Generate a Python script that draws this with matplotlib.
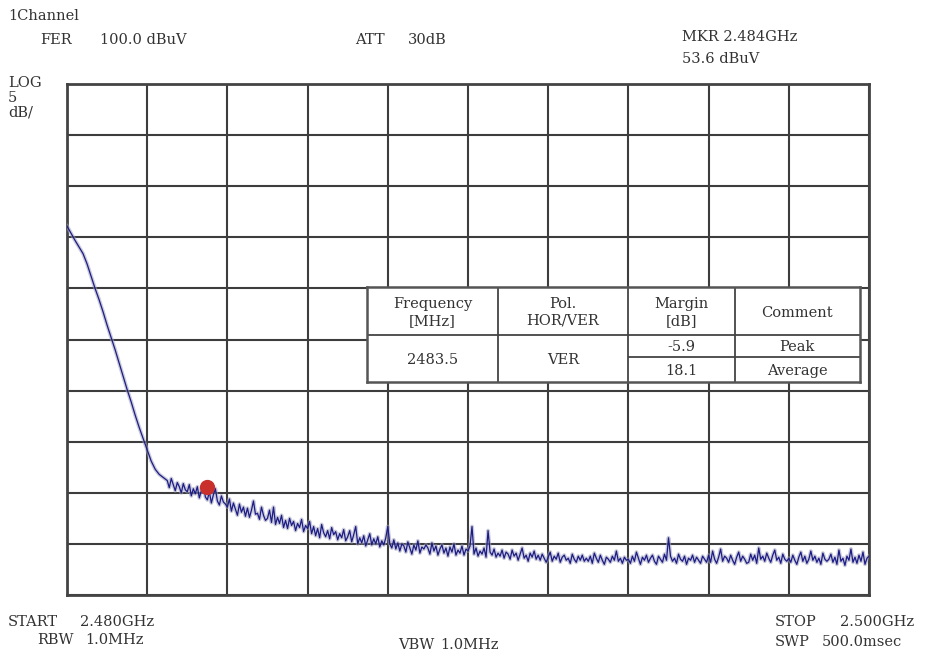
import numpy as np
import matplotlib
matplotlib.use("Agg")
import matplotlib.pyplot as plt

# spectrum analyser trace, 2480-2500 MHz (dBuV)
freq_smooth = [2480.0, 2480.1, 2480.2, 2480.3, 2480.4, 2480.5, 2480.6, 2480.7,
               2480.8, 2480.9, 2481.0, 2481.1, 2481.2, 2481.3, 2481.4, 2481.5,
               2481.6, 2481.7, 2481.8, 2481.9, 2482.0, 2482.1, 2482.2, 2482.3,
               2482.4]
level_smooth = [86.1, 85.4, 84.7, 84.05, 83.4, 82.4, 81.2, 80.0,
                78.9, 77.7, 76.4, 75.2, 74.0, 72.7, 71.4, 70.1,
                68.9, 67.6, 66.4, 65.3, 64.2, 63.1, 62.3, 61.8,
                61.5]

# noisy part, 2482.50 MHz to 2500.00 MHz in 0.05 MHz steps
level_noisy = [
    61.2, 60.5, 61.4, 60.8, 60.2, 61.0, 60.6, 60.0, 60.9, 60.3,
    60.1, 60.8, 59.7, 60.4, 59.9, 60.6, 59.5, 60.2, 60.9, 59.6, 59.3, 60.1, 59.0, 59.8, 60.4, 59.2, 58.8, 59.7, 59.1, 58.9,
    58.6, 59.4, 58.2, 59.0, 58.4, 57.8, 58.9, 58.1, 58.6, 57.7, 58.5, 57.6, 58.3, 59.2, 57.9, 58.0, 57.4, 58.6, 57.8, 57.3,
    57.5, 58.3, 57.1, 58.6, 56.9, 57.6, 57.0, 57.8, 56.6, 57.3, 56.5, 57.5, 56.8, 57.2, 56.3, 57.0, 56.6, 57.4, 56.2, 56.8,
    56.5, 57.2, 56.0, 56.7, 55.8, 56.5, 55.6, 56.9, 56.1, 55.7, 56.3, 55.5, 56.6, 55.9, 56.2, 55.4, 56.0, 55.6, 56.4, 55.3,
    55.7, 56.3, 55.2, 55.9, 56.7, 55.0, 55.6, 55.1, 55.8, 54.8, 55.4, 56.0, 54.9, 55.5, 55.0, 55.7, 54.7, 55.3, 54.9, 55.6,
    56.7, 55.0, 54.6, 55.4, 54.5, 55.1, 54.3, 55.0, 54.8, 54.2, 55.2, 54.6, 54.0, 54.9, 54.4, 55.3, 54.1, 54.7, 54.5, 54.9,
    54.6, 54.0, 55.1, 54.3, 54.8, 53.9, 54.5, 54.9, 54.1, 54.6, 53.8, 54.7, 54.2, 55.0, 53.9, 54.4, 54.1, 54.8, 53.9, 54.5,
    54.3, 54.8, 56.7, 54.0, 54.6, 53.8, 54.3, 54.0, 54.6, 53.7, 56.3, 54.2, 53.9, 54.5, 53.7, 54.1, 53.8, 54.4, 53.6, 54.2,
    54.0, 53.5, 54.4, 53.8, 54.1, 53.4, 54.0, 54.6, 53.6, 53.9, 53.3, 54.1, 53.7, 54.3, 53.5, 53.9, 53.4, 54.0, 53.6, 53.2,
    53.7, 54.2, 53.3, 53.8, 53.5, 54.1, 53.2, 53.7, 53.9, 53.4, 53.6, 53.1, 54.0, 53.5, 53.2, 53.8, 53.4, 53.9, 53.3, 53.6,
    53.3, 53.8, 53.1, 54.1, 53.6, 53.2, 53.9, 53.4, 53.0, 53.7, 53.5, 53.2, 53.8, 53.4, 54.3, 53.3, 53.6, 53.1, 53.7, 53.4,
    53.5, 53.1, 53.8, 53.3, 54.2, 53.6, 53.0, 53.7, 53.4, 53.9, 53.2, 53.6, 53.9, 53.3, 53.0, 53.8, 53.5, 53.2, 54.0, 53.4,
    55.6, 53.8, 53.3, 53.6, 53.1, 54.0, 53.5, 53.3, 53.8, 53.0, 53.6, 53.4, 53.9, 53.2, 53.7, 53.4, 53.1, 53.8, 53.5, 53.2,
    53.9, 53.2, 54.3, 53.5, 53.1, 53.7, 54.5, 53.3, 53.8, 53.6, 53.2, 53.9, 53.4, 53.0, 53.7, 54.2, 53.3, 53.8, 53.5, 53.1,
    53.2, 54.0, 53.4, 53.9, 53.1, 54.6, 53.5, 53.8, 53.3, 54.1, 53.6, 53.2, 53.9, 54.4, 53.4, 53.7, 53.1, 54.0, 53.5, 53.3,
    53.6, 53.2, 53.9, 53.4, 53.0, 53.7, 54.2, 53.3, 53.8, 53.1, 53.5, 54.3, 53.4, 53.8, 53.2, 53.6, 53.0, 54.1, 53.5, 53.3,
    53.5, 54.0, 53.2, 53.7, 53.0, 54.4, 53.3, 53.6, 52.9, 53.8, 53.4, 54.5, 53.2, 53.7, 53.1, 53.9, 53.3, 54.2, 53.0, 53.6,
    53.8,
]
freq_noisy = [round(2482.5 + 0.05 * i, 2) for i in range(len(level_noisy))]

marker_freq = 2483.5
marker_level = 60.6

ref_level = 100.0
db_per_div = 5
start_mhz, stop_mhz = 2480.0, 2500.0

table_header = ["Frequency\n[MHz]", "Pol.\nHOR/VER", "Margin\n[dB]", "Comment"]
table_freq = "2483.5"
table_pol = "VER"
table_margin = ["-5.9", "18.1"]
table_comment = ["Peak", "Average"]

freq = np.array(freq_smooth + freq_noisy)
level = np.array(level_smooth + level_noisy)

W, H = 931, 655
fig = plt.figure(figsize=(W / 100, H / 100), dpi=100)
fig.patch.set_facecolor("white")

serif = "DejaVu Serif"
tcol = "#333333"


def px(x, y):
    return x / W, 1 - y / H


ax = fig.add_axes([67 / W, (H - 595) / H, 802 / W, 511 / H])
ax.set_xlim(start_mhz, stop_mhz)
ax.set_ylim(ref_level - 10 * db_per_div, ref_level)
ax.set_xticks(np.linspace(start_mhz, stop_mhz, 11))
ax.set_yticks(np.arange(ref_level - 10 * db_per_div, ref_level + 1, db_per_div))
ax.tick_params(length=0, labelbottom=False, labelleft=False)
ax.grid(True, color="#3d3d3d", lw=1.5)
ax.set_axisbelow(True)
for s in ax.spines.values():
    s.set_color("#444444")
    s.set_linewidth(2.0)

# blurred halo + trace
ax.plot(freq, level, color="#a0a0bc", lw=2.8, alpha=0.55, zorder=3)
ax.plot(freq, level, color="#1c1c86", lw=0.9, zorder=4)
ax.plot([marker_freq], [marker_level], "o", color="#c9302b", ms=10, zorder=5)

# result table over the grid
tab = fig.add_axes([367 / W, 1 - 381.7 / H, (860 - 367) / W, (381.7 - 287) / H])
tab.set_xlim(0, 1)
tab.set_ylim(0, 1)
tab.set_xticks([])
tab.set_yticks([])
tab.set_facecolor("white")
for s in tab.spines.values():
    s.set_color("#555555")
    s.set_linewidth(1.8)
cols = [0, 0.266, 0.529, 0.746, 1]
tab.hlines(0.493, 0, 1, color="#444444", lw=1.3)
tab.hlines(0.264, cols[2], 1, color="#444444", lw=1.3)
tab.vlines(cols[1:4], 0, 1, color="#444444", lw=1.3)
fs_t = 10.5
for i, h in enumerate(table_header):
    tab.text((cols[i] + cols[i + 1]) / 2, 0.73, h, ha="center", va="center",
             family=serif, fontsize=fs_t, color=tcol, linespacing=1.2)
tab.text((cols[0] + cols[1]) / 2, 0.23, table_freq, ha="center", va="center",
         family=serif, fontsize=fs_t, color=tcol)
tab.text((cols[1] + cols[2]) / 2, 0.23, table_pol, ha="center", va="center",
         family=serif, fontsize=fs_t, color=tcol)
for k, yy in enumerate([0.37, 0.11]):
    tab.text((cols[2] + cols[3]) / 2, yy, table_margin[k], ha="center", va="center",
             family=serif, fontsize=fs_t, color=tcol)
    tab.text((cols[3] + cols[4]) / 2, yy, table_comment[k], ha="center", va="center",
             family=serif, fontsize=fs_t, color=tcol)

# analyser annotations (word groups placed separately, like the screen)
fs = 10.5
labels = [
    (8, 16, "1Channel"),
    (40, 40, "FER"), (100, 40, "100.0 dBuV"),
    (355, 40, "ATT"), (408, 40, "30dB"),
    (682, 37, "MKR 2.484GHz"),
    (682, 59, "53.6 dBuV"),
    (8, 83, "LOG"),
    (8, 98, "5"),
    (8, 113, "dB/"),
    (8, 622, "START"), (80, 622, "2.480GHz"),
    (37, 640, "RBW"), (85, 640, "1.0MHz"),
    (398, 645, "VBW"), (440, 645, "1.0MHz"),
    (775, 622, "STOP"), (840, 622, "2.500GHz"),
    (775, 642, "SWP"), (822, 642, "500.0msec"),
]
for x, y, t in labels:
    fig.text(*px(x, y), t, ha="left", va="center", family=serif,
             fontsize=fs, color=tcol)

fig.savefig("out.png", dpi=100, facecolor="white")
